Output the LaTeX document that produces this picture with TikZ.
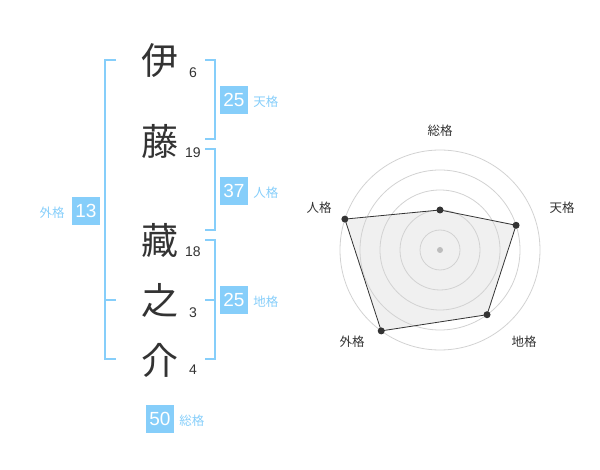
\documentclass[tikz,border=0pt]{standalone}
\usepackage{fontspec}
\setmainfont{Liberation Sans}
\newfontfamily\jp{Noto Sans CJK JP}
\usetikzlibrary{positioning}
\definecolor{sky}{HTML}{86CEFA}
\definecolor{ink}{HTML}{333333}
\definecolor{ring}{HTML}{D2D2D2}
\definecolor{area}{HTML}{F0F0F0}

\begin{document}
\begin{tikzpicture}[x=1pt,y=-1pt,
    kanji/.style={font=\jp\fontsize{37}{37}\selectfont, text=ink, inner sep=0},
    strokes/.style={font=\fontsize{14}{14}\selectfont, text=ink, inner sep=0},
    score/.style={fill=sky, text=white, minimum size=28pt, inner sep=0,
        font=\fontsize{19}{19}\selectfont},
    kaku/.style={font=\jp\fontsize{12.5}{12.5}\selectfont, text=sky, inner sep=0},
    axis/.style={font=\jp\fontsize{12.5}{12.5}\selectfont, text=ink, inner sep=0},
    bracket/.style={draw=sky, line width=2pt},
    dot/.style={circle, fill=ink, inner sep=0, minimum size=7pt}]
    \useasboundingbox (0,0) rectangle (600,470);

    % name
    \node[kanji] (A) at (160,61) {伊};
    \node[kanji] (B) at (160,141) {藤};
    \node[kanji] (C) at (160,240) {藏};
    \node[kanji] (D) at (160,300) {之};
    \node[kanji] (E) at (160,360) {介};
    \node[strokes] (nA) at (193,73) {6};
    \node[strokes] (nB) at (193,153) {19};
    \node[strokes] (nC) at (193,252) {18};
    \node[strokes] (nD) at (193,313) {3};
    \node[strokes] (nE) at (193,370) {4};

    % brackets
    \draw[bracket] (116,60) -- (105,60) -- (105,359) -- (116,359);
    \draw[bracket] (105,300) -- (116,300);
    \draw[bracket] (205,60) -- (215,60) -- (215,139) -- (205,139);
    \draw[bracket] (205,149) -- (215,149) -- (215,230) -- (205,230);
    \draw[bracket] (205,240) -- (215,240) -- (215,359) -- (205,359);
    \draw[bracket] (205,300) -- (215,300);

    % scores
    \node[score] (ten) at (234,100) {25};
    \node[score] (jin) at (234,191) {37};
    \node[score] (gai) at (86,211) {13};
    \node[score] (chi) at (234,300) {25};
    \node[score] (sou) at (160,419) {50};
    \node[kaku, anchor=base west] (tenL) at ([xshift=5pt]ten.base east) {天格};
    \node[kaku, anchor=base west] (jinL) at ([xshift=5pt]jin.base east) {人格};
    \node[kaku, anchor=base east] (gaiL) at ([xshift=-7pt]gai.base west) {外格};
    \node[kaku, anchor=base west] (chiL) at ([xshift=5pt]chi.base east) {地格};
    \node[kaku, anchor=base west] (souL) at ([xshift=5pt]sou.base east) {総格};

    % radar
    \begin{scope}[shift={(440,250)}]
        \coordinate (O) at (0,0);
        \coordinate (p1) at (-90:40);
        \coordinate (p2) at (-18:80);
        \coordinate (p3) at (54:80);
        \coordinate (p4) at (126:100);
        \coordinate (p5) at (198:100);
        \fill[area] (p1) -- (p2) -- (p3) -- (p4) -- (p5) -- cycle;
        \foreach \r in {20,40,60,80,100}
            \draw[ring, line width=0.8pt] (O) circle[radius=\r pt];
        \draw[ink, line width=0.8pt] (p1) -- (p2) -- (p3) -- (p4) -- (p5) -- cycle;
        \node[circle, fill=ring!90!black, inner sep=0, minimum size=6pt] (c) at (O) {};
        \node[dot] (d1) at (p1) {};
        \node[dot] (d2) at (p2) {};
        \node[dot] (d3) at (p3) {};
        \node[dot] (d4) at (p4) {};
        \node[dot] (d5) at (p5) {};
    \end{scope}
    \node[axis] (aSou) at (440,131) {総格};
    \node[axis] (aTen) at (562,208) {天格};
    \node[axis] (aChi) at (524,342) {地格};
    \node[axis] (aGai) at (352,342) {外格};
    \node[axis] (aJin) at (319,208) {人格};
\end{tikzpicture}
\end{document}
